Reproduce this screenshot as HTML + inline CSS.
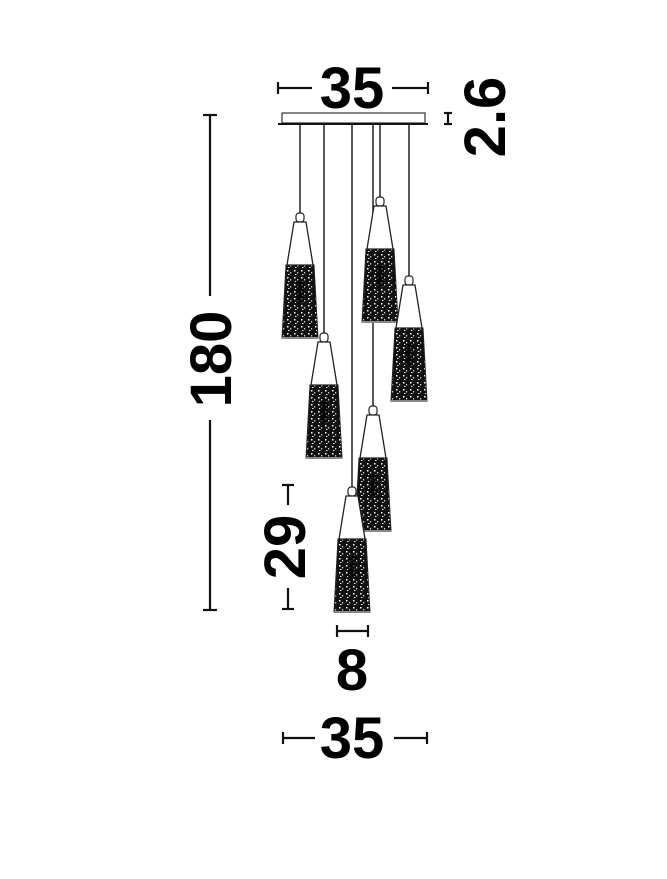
<!DOCTYPE html>
<html><head><meta charset="utf-8"><style>html,body{margin:0;padding:0;background:#fff}svg{display:block}</style></head>
<body>
<svg width="667" height="879" viewBox="0 0 667 879" xmlns="http://www.w3.org/2000/svg">
<defs>
<pattern id="tx" width="7" height="7" patternUnits="userSpaceOnUse">
<rect width="7" height="7" fill="#111"/>
<rect x="1" y="1" width="1.5" height="1.5" fill="#fff"/>
<rect x="4" y="3" width="1.2" height="1.5" fill="#ccc"/>
<rect x="2" y="5" width="1.5" height="1" fill="#eee"/>
</pattern>
<g id="p">
<rect x="-4" y="0" width="8" height="9" rx="3" fill="#fff" stroke="#222" stroke-width="1.2"/>
<polygon points="-6,9 6,9 13,52 -13,52" fill="#fff" stroke="#222" stroke-width="1.3"/>
<polygon points="-14,52 14,52 18,125 -18,125" fill="url(#tx)" stroke="#222" stroke-width="1"/>
<rect x="-4" y="68" width="8" height="22" fill="#000" opacity="0.6"/>
<line x1="-18" y1="125" x2="18" y2="125" stroke="#888" stroke-width="2"/>
</g>
</defs>
<g stroke="#222" stroke-width="1.5" fill="none">
<line x1="300" y1="125" x2="300" y2="213"/>
<line x1="324" y1="125" x2="324" y2="333"/>
<line x1="352" y1="125" x2="352" y2="487"/>
<line x1="373" y1="125" x2="373" y2="406"/>
<line x1="380" y1="125" x2="380" y2="197"/>
<line x1="409" y1="125" x2="409" y2="276"/>
</g>
<rect x="282" y="113" width="143" height="10" fill="#fff" stroke="#333" stroke-width="1.2"/>
<line x1="278" y1="124" x2="428" y2="124" stroke="#111" stroke-width="2"/>
<use href="#p" x="300" y="213"/>
<use href="#p" x="380" y="197"/>
<use href="#p" x="409" y="276"/>
<use href="#p" x="324" y="333"/>
<use href="#p" x="373" y="406"/>
<use href="#p" x="352" y="487"/>
<g stroke="#111" stroke-width="2.2" fill="none">
<line x1="278" y1="88" x2="312" y2="88"/><line x1="278" y1="82" x2="278" y2="94"/>
<line x1="392" y1="88" x2="428" y2="88"/><line x1="428" y1="82" x2="428" y2="94"/>
<line x1="448" y1="113" x2="448" y2="124"/><line x1="444" y1="113" x2="452" y2="113"/><line x1="444" y1="124" x2="452" y2="124"/>
<line x1="210" y1="115" x2="210" y2="296"/><line x1="203" y1="115" x2="217" y2="115"/>
<line x1="210" y1="420" x2="210" y2="610"/><line x1="203" y1="610" x2="217" y2="610"/>
<line x1="288" y1="485" x2="288" y2="505"/><line x1="282" y1="485" x2="294" y2="485"/>
<line x1="288" y1="588" x2="288" y2="609"/><line x1="282" y1="609" x2="294" y2="609"/>
<line x1="337" y1="631" x2="368" y2="631"/><line x1="337" y1="625" x2="337" y2="637"/><line x1="368" y1="625" x2="368" y2="637"/>
<line x1="283" y1="738" x2="315" y2="738"/><line x1="283" y1="732" x2="283" y2="744"/>
<line x1="394" y1="738" x2="427" y2="738"/><line x1="427" y1="732" x2="427" y2="744"/>
</g>
<g font-family="Liberation Sans, sans-serif" font-weight="bold" font-size="58" fill="#000" text-anchor="middle">
<text x="352" y="108">35</text>
<text x="352" y="758">35</text>
<text x="352" y="690">8</text>
<text transform="translate(505,117) rotate(-90)">2.6</text>
<text transform="translate(231,359) rotate(-90)">180</text>
<text transform="translate(305,547) rotate(-90)">29</text>
</g>
</svg>
</body></html>
